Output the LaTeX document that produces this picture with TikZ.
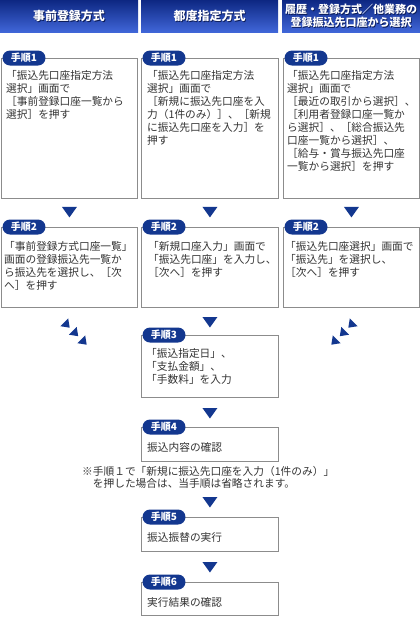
\documentclass[tikz,border=0pt]{standalone}
\usepackage{fontspec}
\setmainfont{Noto Sans CJK JP}
\usetikzlibrary{calc}
\definecolor{navy}{HTML}{13378F}
\definecolor{hdtop}{HTML}{0D2782}
\definecolor{hdbot}{HTML}{4066D8}
\definecolor{hdshad}{HTML}{0A1A55}
\definecolor{boxgray}{HTML}{8C8C8C}
\definecolor{txt}{HTML}{333333}
\begin{document}
\begin{tikzpicture}[x=1pt,y=-1pt,
  hdr/.style={top color=hdtop, bottom color=hdbot, draw=none, minimum height=32pt, inner sep=0},
  hdtxt/.style={text=white, font=\bfseries\fontsize{12}{13}\selectfont, align=center, inner sep=0},
  hdshadow/.style={text=hdshad, font=\bfseries\fontsize{12}{13}\selectfont, align=center, inner sep=0},
  stepbox/.style={draw=boxgray, line width=0.9pt, fill=white, inner sep=0, anchor=north west},
  badge/.style={fill=navy, rounded corners=7.5pt, minimum width=43pt, minimum height=15pt, inner sep=0, text=white, font=\bfseries\fontsize{10}{10}\selectfont},
  body/.style={inner sep=0, anchor=north west, align=left, text=txt, font=\fontsize{10.7}{13}\selectfont},
  tri/.style={fill=navy, draw=none}]
\useasboundingbox (0,0) rectangle (420,630);

% headers
\node[hdr, minimum width=138pt] (h1) at (69,16) {};
\node[hdr, minimum width=137pt] (h2) at (209.5,16) {};
\node[hdr, minimum width=138pt] (h3) at (351,16) {};
\node[hdshadow] (h1s) at ([xshift=0.8pt,yshift=-0.8pt]h1.center) {事前登録方式};
\node[hdtxt] (h1t) at (h1.center) {事前登録方式};
\node[hdshadow] (h2s) at ([xshift=0.8pt,yshift=-0.8pt]h2.center) {都度指定方式};
\node[hdtxt] (h2t) at (h2.center) {都度指定方式};
\node[hdshadow, font=\bfseries\fontsize{11}{12.5}\selectfont] (h3s) at ([xshift=0.8pt,yshift=-0.8pt]h3.center) {履歴・登録方式／他業務の\\登録振込先口座から選択};
\node[hdtxt, font=\bfseries\fontsize{11}{12.5}\selectfont] (h3t) at (h3.center) {履歴・登録方式／他業務の\\登録振込先口座から選択};

% step 1 boxes
\node[stepbox, minimum width=136pt, minimum height=140pt] (s1a) at (1,58) {};
\node[stepbox, minimum width=137pt, minimum height=140pt] (s1b) at (141,58) {};
\node[stepbox, minimum width=136pt, minimum height=140pt] (s1c) at (283,58) {};
\node[badge] (p1a) at ([xshift=23pt]s1a.north west) {手順1};
\node[badge] (p1b) at ([xshift=23pt]s1b.north west) {手順1};
\node[badge] (p1c) at ([xshift=23pt]s1c.north west) {手順1};
\node[body] (t1a) at ([xshift=5pt,yshift=-12pt]s1a.north west) {「振込先口座指定方法\\選択」画面で\\［事前登録口座一覧から\\選択］を押す};
\node[body] (t1b) at ([xshift=6pt,yshift=-12pt]s1b.north west) {「振込先口座指定方法\\選択」画面で\\［新規に振込先口座を入\\力（1件のみ）］、［新規\\に振込先口座を入力］を\\押す};
\node[body] (t1c) at ([xshift=4pt,yshift=-12pt]s1c.north west) {「振込先口座指定方法\\選択」画面で\\［最近の取引から選択］、\\［利用者登録口座一覧か\\ら選択］、［総合振込先\\口座一覧から選択］、\\［給与・賞与振込先口座\\一覧から選択］を押す};

% step 2 boxes
\node[stepbox, minimum width=136pt, minimum height=80pt] (s2a) at (1,227) {};
\node[stepbox, minimum width=137pt, minimum height=80pt] (s2b) at (141,227) {};
\node[stepbox, minimum width=136pt, minimum height=80pt] (s2c) at (283,227) {};
\node[badge] (p2a) at ([xshift=23pt]s2a.north west) {手順2};
\node[badge] (p2b) at ([xshift=23pt]s2b.north west) {手順2};
\node[badge] (p2c) at ([xshift=23pt]s2c.north west) {手順2};
\node[body] (t2a) at ([xshift=3pt,yshift=-14pt]s2a.north west) {「事前登録方式口座一覧」\\画面の登録振込先一覧か\\ら振込先を選択し、［次\\へ］を押す};
\node[body] (t2b) at ([xshift=7pt,yshift=-14pt]s2b.north west) {「新規口座入力」画面で\\「振込先口座」を入力し、\\［次へ］を押す};
\node[body] (t2c) at ([xshift=2pt,yshift=-14pt]s2c.north west) {「振込先口座選択」画面で\\「振込先」を選択し、\\［次へ］を押す};

% step 3-6
\node[stepbox, minimum width=137pt, minimum height=62pt] (s3) at (141,335) {};
\node[badge] (p3) at ([xshift=23pt]s3.north west) {手順3};
\node[body] (t3) at ([xshift=5pt,yshift=-13pt]s3.north west) {「振込指定日」、\\「支払金額」、\\「手数料」を入力};

\node[stepbox, minimum width=137pt, minimum height=34pt] (s4) at (141,427) {};
\node[badge] (p4) at ([xshift=23pt]s4.north west) {手順4};
\node[body] (t4) at ([xshift=6pt,yshift=-15pt]s4.north west) {振込内容の確認};

\node[body, font=\fontsize{10.7}{12}\selectfont] (nt) at (82,466) {※手順１で「新規に振込先口座を入力（1件のみ）」\\　を押した場合は、当手順は省略されます。};

\node[stepbox, minimum width=137pt, minimum height=34pt] (s5) at (141,517) {};
\node[badge] (p5) at ([xshift=23pt]s5.north west) {手順5};
\node[body] (t5) at ([xshift=6pt,yshift=-15pt]s5.north west) {振込振替の実行};

\node[stepbox, minimum width=137pt, minimum height=33pt] (s6) at (141,582) {};
\node[badge] (p6) at ([xshift=23pt]s6.north west) {手順6};
\node[body] (t6) at ([xshift=6pt,yshift=-15pt]s6.north west) {実行結果の確認};

% down triangles
\fill[tri] ($(s1a.south)+(-7.5,8)$) -- ++(15,0) -- ++(-7.5,10.5) -- cycle;
\fill[tri] ($(s1b.south)+(-7.5,8)$) -- ++(15,0) -- ++(-7.5,10.5) -- cycle;
\fill[tri] ($(s1c.south)+(-7.5,8)$) -- ++(15,0) -- ++(-7.5,10.5) -- cycle;
\fill[tri] ($(s3.north)+(-7.5,-18)$) -- ++(15,0) -- ++(-7.5,10.5) -- cycle;
\fill[tri] ($(s4.north)+(-7.5,-19)$) -- ++(15,0) -- ++(-7.5,10.5) -- cycle;
\fill[tri] ($(s5.north)+(-7.5,-20)$) -- ++(15,0) -- ++(-7.5,10.5) -- cycle;
\fill[tri] ($(s6.north)+(-7.5,-20)$) -- ++(15,0) -- ++(-7.5,10.5) -- cycle;

% diagonal triangles
\foreach \cx/\cy in {67/325, 75.5/333.5, 84/342}
  \fill[tri, shift={(\cx,\cy)}, rotate=45] (-5.5,-3.8) -- (5.5,-3.8) -- (0,3.8) -- cycle;
\foreach \cx/\cy in {351/325, 342.5/333.5, 334/342}
  \fill[tri, shift={(\cx,\cy)}, rotate=-45] (-5.5,-3.8) -- (5.5,-3.8) -- (0,3.8) -- cycle;
\end{tikzpicture}
\end{document}
